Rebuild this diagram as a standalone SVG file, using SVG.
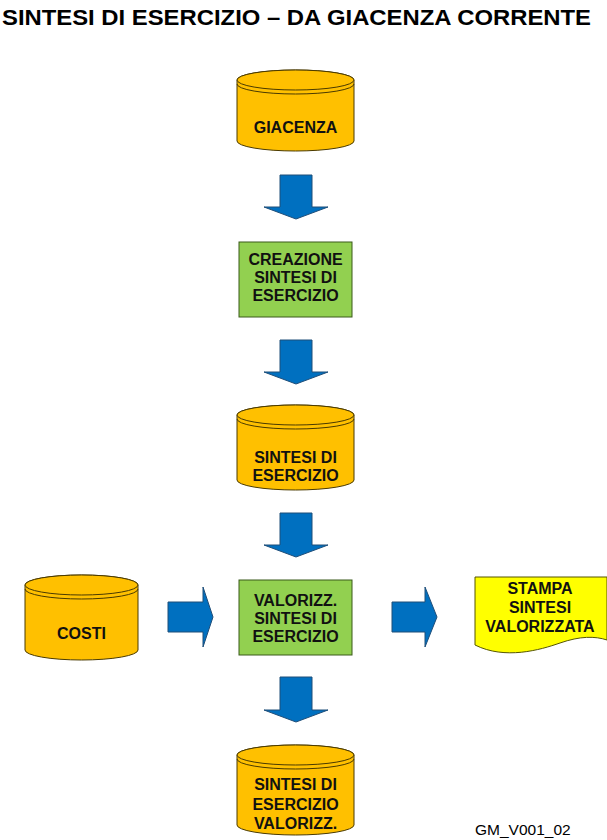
<svg xmlns="http://www.w3.org/2000/svg" width="607" height="840" viewBox="0 0 607 840">
<style>
.cyl{fill:#FFC000;stroke:#4a3a00;stroke-width:1}
.rim{fill:none;stroke:#4a3a00;stroke-width:1}
.box{fill:#92D050;stroke:#3a5a1a;stroke-width:1}
.doc{fill:#FFFF00;stroke:#555500;stroke-width:1}
.arr{fill:#0070C0;stroke:#1f4e79;stroke-width:1}
.t{font-family:"Liberation Sans",Arial,sans-serif;font-weight:bold;font-size:16px;fill:#111;text-anchor:middle}
</style>
<rect width="607" height="840" fill="#fff"/>
<text x="2" y="25" font-family="Liberation Sans,Arial,sans-serif" font-weight="bold" font-size="22" fill="#000" textLength="589" lengthAdjust="spacingAndGlyphs">SINTESI DI ESERCIZIO – DA GIACENZA CORRENTE</text>

<g id="giacenza">
<path class="cyl" d="M237,80 V141 A58.5,10 0 0 0 354,141 V80 A58.5,10 0 0 0 237,80 Z"/>
<ellipse class="cyl" cx="295.5" cy="80" rx="58.5" ry="10"/>
<path class="rim" d="M237,84 A58.5,10 0 0 0 354,84"/>
<text class="t" x="295.5" y="133">GIACENZA</text>
</g>

<g id="creazione">
<rect class="box" x="239" y="242" width="113" height="75"/>
<text class="t" x="295.5" y="265">CREAZIONE</text>
<text class="t" x="295.5" y="283">SINTESI DI</text>
<text class="t" x="295.5" y="301">ESERCIZIO</text>
</g>

<g id="sintesi">
<path class="cyl" d="M237,415 V480 A58.5,10 0 0 0 354,480 V415 A58.5,10 0 0 0 237,415 Z"/>
<ellipse class="cyl" cx="295.5" cy="415" rx="58.5" ry="10"/>
<path class="rim" d="M237,419 A58.5,10 0 0 0 354,419"/>
<text class="t" x="295.5" y="463">SINTESI DI</text>
<text class="t" x="295.5" y="481">ESERCIZIO</text>
</g>

<g id="costi">
<path class="cyl" d="M25,585 V650 A56.5,10 0 0 0 138,650 V585 A56.5,10 0 0 0 25,585 Z"/>
<ellipse class="cyl" cx="81.5" cy="585" rx="56.5" ry="10"/>
<path class="rim" d="M25,589 A56.5,10 0 0 0 138,589"/>
<text class="t" x="81.5" y="639">COSTI</text>
</g>

<g id="valorizz">
<rect class="box" x="239" y="580" width="113" height="75"/>
<text class="t" x="295.5" y="606">VALORIZZ.</text>
<text class="t" x="295.5" y="624">SINTESI DI</text>
<text class="t" x="295.5" y="642">ESERCIZIO</text>
</g>

<g id="stampa">
<path class="doc" d="M475,577 H607 V640 C595,636 580,636 560,643 C540,650 505,660 475,645 Z"/>
<text class="t" x="540" y="594">STAMPA</text>
<text class="t" x="540" y="613">SINTESI</text>
<text class="t" x="540" y="632">VALORIZZATA</text>
</g>

<g id="sintesi_valorizz">
<path class="cyl" d="M237,755 V825 A58.5,10 0 0 0 354,825 V755 A58.5,10 0 0 0 237,755 Z"/>
<ellipse class="cyl" cx="295.5" cy="755" rx="58.5" ry="10"/>
<path class="rim" d="M237,759 A58.5,10 0 0 0 354,759"/>
<text class="t" x="295.5" y="790">SINTESI DI</text>
<text class="t" x="295.5" y="810">ESERCIZIO</text>
<text class="t" x="295.5" y="829">VALORIZZ.</text>
</g>

<g id="connectors">
<polygon class="arr" points="280,175 312,175 312,207 328,207 296,219 264,207 280,207"/>
<polygon class="arr" points="280,340 312,340 312,372 328,372 296,384 264,372 280,372"/>
<polygon class="arr" points="280,513 312,513 312,545 328,545 296,557 264,545 280,545"/>
<polygon class="arr" points="280,677 312,677 312,710 328,710 296,722 264,710 280,710"/>
<polygon class="arr" points="168,602 203,602 203,587 213,617 203,647 203,632 168,632"/>
<polygon class="arr" points="392,602 425,602 425,587 437,617 425,647 425,632 392,632"/>
</g>

<text x="475" y="835" font-family="Liberation Sans,Arial,sans-serif" font-size="15.5" fill="#000">GM_V001_02</text>
</svg>
